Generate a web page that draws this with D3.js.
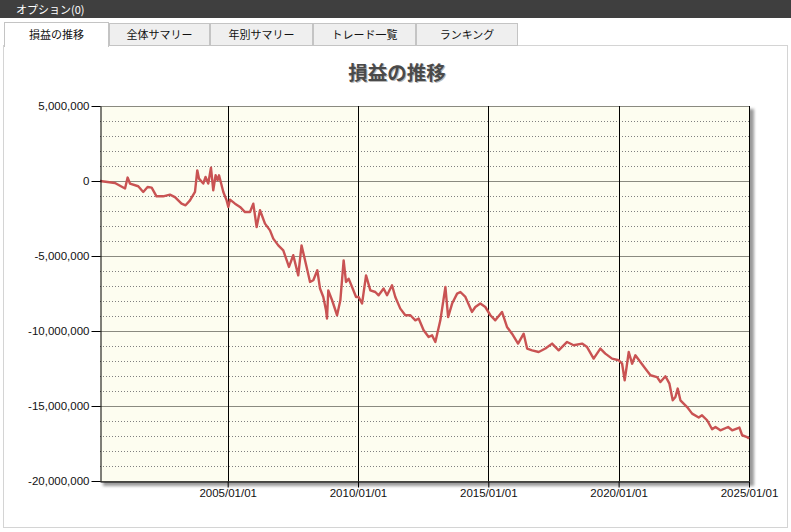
<!DOCTYPE html>
<html><head><meta charset="utf-8">
<script src="https://cdn.jsdelivr.net/npm/d3@7"></script>
<style>
html,body{margin:0;padding:0;background:#fff;}
svg{display:block;}
</style></head>
<body>
<svg id="c" width="791" height="532"></svg>
<script>
const headerTitle = "オプション(0)";
const tabNames = ["損益の推移","全体サマリー","年別サマリー","トレード一覧","ランキング"];
const chartTitle = "損益の推移";
const yTicks = [5000000,0,-5000000,-10000000,-15000000,-20000000];
const xTickLabels = ["2005/01/01","2010/01/01","2015/01/01","2020/01/01","2025/01/01"];
const xStart = "2000/02/08";
const xEnd = "2025/01/01";
const dates = [
"2000/02/08","2000/09/05","2001/01/24","2001/03/01","2001/04/03","2001/07/28","2001/10/06","2001/12/06",
"2002/02/01","2002/04/10","2002/07/13","2002/10/15","2002/12/24","2003/03/27","2003/05/22","2003/07/23",
"2003/10/01","2003/11/02","2003/11/26","2004/01/25","2004/02/26","2004/04/04","2004/05/12","2004/06/13",
"2004/07/16","2004/08/13","2004/09/02","2004/11/01","2004/12/17","2005/01/10","2005/02/03","2005/04/14",
"2005/06/23","2005/09/01","2005/11/10","2005/12/26","2006/02/11","2006/03/30","2006/06/08","2006/08/17",
"2006/10/02","2006/12/11","2007/02/19","2007/05/10","2007/07/09","2007/09/17","2007/11/02","2008/01/12",
"2008/02/29","2008/04/15","2008/06/10","2008/07/18","2008/09/02","2008/10/10","2008/10/24","2008/11/11",
"2009/01/03","2009/03/14","2009/04/29","2009/06/14","2009/07/17","2009/08/23","2009/10/10","2009/12/05",
"2010/01/10","2010/02/27","2010/04/24","2010/06/23","2010/09/01","2010/10/17","2010/12/26","2011/02/12",
"2011/04/23","2011/06/08","2011/08/17","2011/10/26","2012/01/05","2012/03/15","2012/04/30","2012/07/09",
"2012/09/17","2012/11/04","2012/12/20","2013/02/28","2013/05/10","2013/06/17","2013/08/12","2013/10/21",
"2013/12/06","2014/02/14","2014/05/18","2014/07/03","2014/09/11","2014/11/20","2015/01/30","2015/04/09",
"2015/07/12","2015/09/20","2015/11/29","2016/02/22","2016/05/11","2016/06/28","2016/09/06","2016/12/07",
"2017/03/11","2017/06/13","2017/09/13","2018/01/09","2018/04/11","2018/08/07","2018/10/16","2019/01/16",
"2019/04/20","2019/06/29","2019/10/01","2020/01/02","2020/02/19","2020/03/26","2020/05/22","2020/07/08",
"2020/08/23","2020/11/01","2021/01/11","2021/03/22","2021/06/23","2021/08/09","2021/10/18","2021/12/13",
"2022/01/28","2022/03/07","2022/04/08","2022/05/16","2022/08/18","2022/10/27","2023/01/27","2023/03/15",
"2023/05/25","2023/08/03","2023/09/19","2023/11/27","2024/03/14","2024/05/10","2024/08/20","2024/09/27",
"2024/12/06","2025/01/01"];
const profits = [
0,-130000,-500000,230000,-170000,-350000,-730000,-400000,
-440000,-1020000,-1020000,-910000,-1070000,-1510000,-1620000,-1290000,
-730000,710000,160000,-170000,270000,-170000,890000,-620000,
380000,50000,380000,-730000,-1290000,-1730000,-1240000,-1510000,
-1730000,-2070000,-2070000,-1510000,-3070000,-1950000,-2840000,-3290000,
-3840000,-4290000,-4620000,-5730000,-4950000,-6290000,-4290000,-5730000,
-6730000,-6620000,-5950000,-7170000,-7730000,-8620000,-9170000,-7290000,
-7950000,-8950000,-7950000,-5290000,-6730000,-6510000,-7070000,-7730000,
-7730000,-8170000,-6290000,-7290000,-7400000,-7620000,-7170000,-7620000,
-6950000,-7730000,-8510000,-8950000,-8950000,-9290000,-9170000,-9950000,
-10400000,-10290000,-10730000,-9290000,-7070000,-9070000,-8170000,-7510000,
-7400000,-7730000,-8730000,-8400000,-8170000,-8400000,-8950000,-9290000,
-8730000,-9730000,-10180000,-10840000,-10180000,-11170000,-11290000,-11400000,
-11170000,-10840000,-11290000,-10730000,-10950000,-10840000,-11070000,-11840000,
-11170000,-11510000,-11840000,-11950000,-12180000,-13290000,-11400000,-12180000,
-11620000,-12070000,-12510000,-12950000,-13070000,-13400000,-13020000,-13510000,
-14620000,-14400000,-13840000,-14620000,-15070000,-15510000,-15770000,-15620000,
-15950000,-16550000,-16400000,-16620000,-16400000,-16620000,-16440000,-16950000,
-17070000,-17180000];

const parse = d3.timeParse("%Y/%m/%d");
const data = dates.map((d,i)=>({date:parse(d), v:profits[i]}));
const svg = d3.select("#c");
const jp = "'Noto Sans CJK JP','Noto Sans',sans-serif";
const lat = "'Liberation Sans',Arial,sans-serif";

// top bar
svg.append("rect").attr("x",0).attr("y",0).attr("width",791).attr("height",18).attr("fill","#3f3f3f");
svg.append("text").attr("x",16).attr("y",13.5).attr("fill","#fff").attr("font-family",jp).attr("font-size",11).text(headerTitle);

// panel
svg.append("rect").attr("x",3.5).attr("y",45.5).attr("width",784).attr("height",482).attr("fill","#fff").attr("stroke","#d4d4d4");

// tabs
const tabEdges = [4,109,210,313,416,518];
tabNames.forEach((t,i)=>{
  const x0 = tabEdges[i], x1 = tabEdges[i+1];
  const active = i===0;
  svg.append("rect").attr("x",x0+0.5).attr("y",active?22.5:23.5).attr("width",x1-x0-1).attr("height",active?24:22)
    .attr("fill",active?"#fff":"#efefef").attr("stroke","#c4c4c4");
  if(active) svg.append("rect").attr("x",x0+1).attr("y",44).attr("width",x1-x0-2).attr("height",3).attr("fill","#fff");
  svg.append("text").attr("x",(x0+x1)/2).attr("y",39).attr("text-anchor","middle").attr("font-family",jp)
    .attr("font-size",11).attr("fill","#111").text(t);
});

// title
svg.append("text").attr("x",398).attr("y",81).attr("text-anchor","middle").attr("font-family",jp)
  .attr("font-size",19.5).attr("font-weight","bold").attr("fill","#b8b8b8").text(chartTitle);
svg.append("text").attr("x",397).attr("y",80).attr("text-anchor","middle").attr("font-family",jp)
  .attr("font-size",19.5).attr("font-weight","bold").attr("fill","#4a4a4a").text(chartTitle);

// plot
const L=100,R=749,T=106,B=481;
const x = d3.scaleTime().domain([parse(xStart),parse(xEnd)]).range([L,R]);
const y = d3.scaleLinear().domain([-20000000,5000000]).range([B,T]);

const defs = svg.append("defs");
const f = defs.append("filter").attr("id","sh").attr("x","-5%").attr("y","-5%").attr("width","115%").attr("height","115%");
f.append("feGaussianBlur").attr("stdDeviation",1.6);
svg.append("rect").attr("x",L+3).attr("y",T+3).attr("width",R-L+2).attr("height",B-T+2).attr("fill","#9a9a9a").attr("filter","url(#sh)");
svg.append("rect").attr("x",L).attr("y",T).attr("width",R-L).attr("height",B-T).attr("fill","#fdfdf0");

// minor grid
const minor = d3.range(-19000000,5000000,1000000).filter(v=>v%5000000!==0);
svg.append("g").selectAll("line").data(minor).join("line")
  .attr("x1",L).attr("x2",R).attr("y1",d=>Math.round(y(d))+0.5).attr("y2",d=>Math.round(y(d))+0.5)
  .attr("stroke","#808080").attr("stroke-dasharray","1,2");
// major grid
svg.append("g").selectAll("line").data(yTicks).join("line")
  .attr("x1",L).attr("x2",R).attr("y1",d=>Math.round(y(d))+0.5).attr("y2",d=>Math.round(y(d))+0.5)
  .attr("stroke","#8a8a80");
// vertical grid
const xTickDates = xTickLabels.map(parse);
svg.append("g").selectAll("line").data(xTickDates).join("line")
  .attr("x1",d=>Math.round(x(d))+0.5).attr("x2",d=>Math.round(x(d))+0.5).attr("y1",T).attr("y2",B)
  .attr("stroke","#000");

// line
svg.append("path").datum(data).attr("fill","none").attr("stroke","#c95353").attr("stroke-width",2.4)
  .attr("stroke-linejoin","round")
  .attr("d",d3.line().x(d=>x(d.date)).y(d=>y(d.v)));

// axes
const fmt = v=>d3.format(",")(v).replace("\u2212","-");
const ya = svg.append("g").attr("transform",`translate(${L+0.5},0)`)
  .call(d3.axisLeft(y).tickValues(yTicks).tickFormat(fmt).tickSize(9).tickSizeOuter(0).tickPadding(2));
ya.select(".domain").attr("stroke","#000");
ya.selectAll(".tick line").attr("stroke","#000");
ya.selectAll("text").attr("font-family",lat).attr("font-size",11.5).attr("fill","#111");
const xa = svg.append("g").attr("transform",`translate(0,${B+0.5})`)
  .call(d3.axisBottom(x).tickValues(xTickDates).tickFormat(d3.timeFormat("%Y/%m/%d")).tickSize(6).tickSizeOuter(0).tickPadding(1));
xa.select(".domain").attr("stroke","#000");
xa.selectAll(".tick line").attr("stroke","#000");
xa.selectAll("text").attr("font-family",lat).attr("font-size",11.5).attr("fill","#111");
</script>
</body></html>
